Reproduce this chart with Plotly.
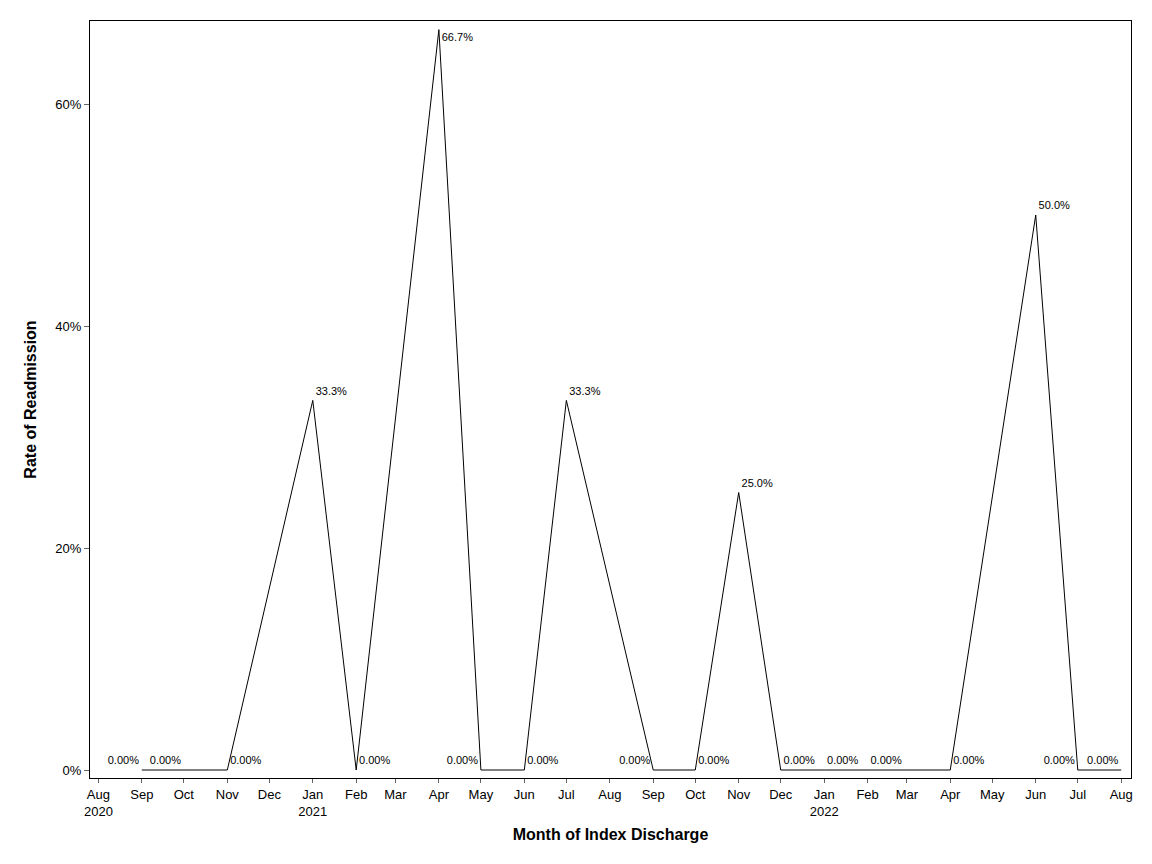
import plotly.graph_objects as go

# monthly readmission rate
months = ["2020-09-01", "2020-10-01", "2020-11-01", "2021-01-01", "2021-02-01",
          "2021-04-01", "2021-05-01", "2021-06-01", "2021-07-01", "2021-09-01",
          "2021-10-01", "2021-11-01", "2021-12-01", "2022-01-01", "2022-02-01",
          "2022-04-01", "2022-06-01", "2022-07-01", "2022-08-01"]
rates = [0.0, 0.0, 0.0, 0.333, 0.0,
         0.667, 0.0, 0.0, 0.333, 0.0,
         0.0, 0.25, 0.0, 0.0, 0.0,
         0.0, 0.50, 0.0, 0.0]
labels = ["0.00%", "0.00%", "0.00%", "33.3%", "0.00%",
          "66.7%", "0.00%", "0.00%", "33.3%", "0.00%",
          "0.00%", "25.0%", "0.00%", "0.00%", "0.00%",
          "0.00%", "50.0%", "0.00%", "0.00%"]
label_pos = ["top left", "top left", "top right", "top right", "top right",
             "bottom right", "top left", "top right", "top right", "top left",
             "top right", "top right", "top right", "top right", "top right",
             "top right", "top right", "top left", "top left"]

tick_dates = ["2020-08-01", "2020-09-01", "2020-10-01", "2020-11-01", "2020-12-01",
              "2021-01-01", "2021-02-01", "2021-03-01", "2021-04-01", "2021-05-01",
              "2021-06-01", "2021-07-01", "2021-08-01", "2021-09-01", "2021-10-01",
              "2021-11-01", "2021-12-01", "2022-01-01", "2022-02-01", "2022-03-01",
              "2022-04-01", "2022-05-01", "2022-06-01", "2022-07-01", "2022-08-01"]
tick_text = ["Aug<br>2020", "Sep", "Oct", "Nov", "Dec",
             "Jan<br>2021", "Feb", "Mar", "Apr", "May",
             "Jun", "Jul", "Aug", "Sep", "Oct",
             "Nov", "Dec", "Jan<br>2022", "Feb", "Mar",
             "Apr", "May", "Jun", "Jul", "Aug"]

fig = go.Figure()
fig.add_trace(go.Scatter(
    x=months, y=rates, mode="lines+markers+text",
    line=dict(color="black", width=1),
    marker=dict(size=3, color="rgba(0,0,0,0)"),
    text=labels, textposition=label_pos,
    textfont=dict(size=11, color="black"),
    cliponaxis=False, showlegend=False,
))

# page body has an 8px margin, so margins are shifted to land the frame where the reference has it
fig.update_layout(
    width=1152, height=864,
    margin=dict(l=82, r=29, t=13, b=94),
    paper_bgcolor="white", plot_bgcolor="white",
    font=dict(family="Liberation Sans, Arial, sans-serif", color="black", size=13),
)
fig.update_xaxes(
    type="date", range=["2020-07-26", "2022-08-08"],
    tickvals=tick_dates, ticktext=tick_text,
    ticks="outside", ticklen=4, tickcolor="#666666",
    showline=True, linecolor="black", linewidth=1, mirror=True,
    showgrid=False, zeroline=False,
    title=dict(text="<b>Month of Index Discharge</b>", font=dict(size=16), standoff=11),
)
fig.update_yaxes(
    range=[-0.0072, 0.6748], tickvals=[0, 0.2, 0.4, 0.6], tickformat=".0%",
    ticks="outside", ticklen=5, tickcolor="#666666",
    showline=True, linecolor="black", linewidth=1, mirror=True,
    showgrid=False, zeroline=False,
    title=dict(text="<b>Rate of Readmission</b>", font=dict(size=16), standoff=14),
)

fig.write_html("out.html")
